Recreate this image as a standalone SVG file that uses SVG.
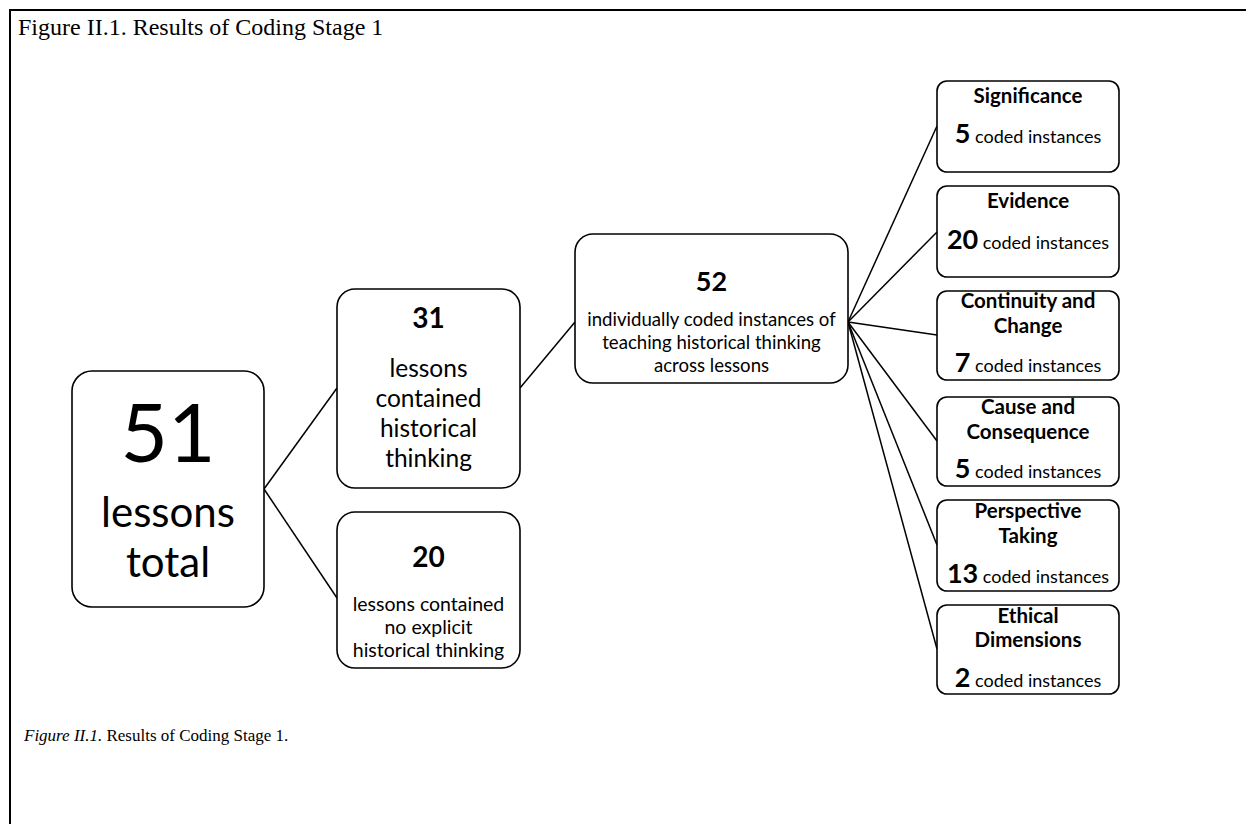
<svg xmlns="http://www.w3.org/2000/svg" width="1246" height="824" viewBox="0 0 1246 824">
<style>
.box{fill:#fff;stroke:#000;stroke-width:1.6}
.s{font-family:Lato,"Liberation Sans",sans-serif;fill:#000;text-anchor:middle}
.b{font-weight:bold}
.t{font-size:20.5px;font-weight:bold}
.c{font-size:18px}
.n{font-size:27px;font-weight:bold}
.serif{font-family:"Liberation Serif","Times New Roman",serif;fill:#000}
.ln{stroke:#000;stroke-width:1.5;fill:none}
</style>
<rect width="1246" height="824" fill="#fff"/>
<path d="M10 824 V10 H1246" fill="none" stroke="#000" stroke-width="2"/>
<text class="serif" x="18" y="35" font-size="24">Figure II.1. Results of Coding Stage 1</text>
<text class="serif" x="24" y="741" font-size="17"><tspan font-style="italic">Figure II.1.</tspan> Results of Coding Stage 1.</text>
<g id="connectors">
<line class="ln" x1="264" y1="489" x2="337" y2="388"/>
<line class="ln" x1="264" y1="489" x2="337" y2="598"/>
<line class="ln" x1="520" y1="388" x2="575" y2="322"/>
<line class="ln" x1="848" y1="322" x2="937" y2="126"/>
<line class="ln" x1="848" y1="322" x2="937" y2="232"/>
<line class="ln" x1="848" y1="322" x2="937" y2="335"/>
<line class="ln" x1="848" y1="322" x2="937" y2="441"/>
<line class="ln" x1="848" y1="322" x2="937" y2="545"/>
<line class="ln" x1="848" y1="322" x2="937" y2="649"/>
</g>
<g id="total">
<rect class="box" x="72" y="371" width="192" height="236" rx="20"/>
<text class="s" x="168" y="462" font-size="82">51</text>
<text class="s" x="168" y="527" font-size="42">lessons</text>
<text class="s" x="168" y="577" font-size="42">total</text>
</g>
<g id="contained">
<rect class="box" x="337" y="289" width="183" height="199" rx="18"/>
<text class="s b" x="428.5" y="328" font-size="28">31</text>
<text class="s" x="428.5" y="377" font-size="24.5">lessons</text>
<text class="s" x="428.5" y="407" font-size="24.5">contained</text>
<text class="s" x="428.5" y="437" font-size="24.5">historical</text>
<text class="s" x="428.5" y="467" font-size="24.5">thinking</text>
</g>
<g id="notcontained">
<rect class="box" x="337" y="512" width="183" height="156" rx="18"/>
<text class="s b" x="428.5" y="567" font-size="28">20</text>
<text class="s" x="428.5" y="611" font-size="19.5">lessons contained</text>
<text class="s" x="428.5" y="634" font-size="19.5">no explicit</text>
<text class="s" x="428.5" y="657" font-size="19.5">historical thinking</text>
</g>
<g id="instances">
<rect class="box" x="575" y="234" width="273" height="149" rx="18"/>
<text class="s b" x="711.5" y="291" font-size="27">52</text>
<text class="s" x="711.5" y="326" font-size="18.6">individually coded instances of</text>
<text class="s" x="711.5" y="349" font-size="18.6">teaching historical thinking</text>
<text class="s" x="711.5" y="372" font-size="18.6">across lessons</text>
</g>
<g id="significance">
<rect class="box" x="937" y="81" width="182" height="91" rx="10"/>
<text class="s t" x="1028" y="103">Significance</text>
<text class="s c" x="1028" y="143"><tspan class="n">5</tspan> coded instances</text>
</g>
<g id="evidence">
<rect class="box" x="937" y="186" width="182" height="91" rx="10"/>
<text class="s t" x="1028" y="208">Evidence</text>
<text class="s c" x="1028" y="249"><tspan class="n">20</tspan> coded instances</text>
</g>
<g id="continuity">
<rect class="box" x="937" y="291" width="182" height="89" rx="10"/>
<text class="s t" x="1028" y="308">Continuity and</text>
<text class="s t" x="1028" y="333">Change</text>
<text class="s c" x="1028" y="372"><tspan class="n">7</tspan> coded instances</text>
</g>
<g id="cause">
<rect class="box" x="937" y="397" width="182" height="89" rx="10"/>
<text class="s t" x="1028" y="414">Cause and</text>
<text class="s t" x="1028" y="439">Consequence</text>
<text class="s c" x="1028" y="478"><tspan class="n">5</tspan> coded instances</text>
</g>
<g id="perspective">
<rect class="box" x="937" y="500" width="182" height="91" rx="10"/>
<text class="s t" x="1028" y="518">Perspective</text>
<text class="s t" x="1028" y="543">Taking</text>
<text class="s c" x="1028" y="583"><tspan class="n">13</tspan> coded instances</text>
</g>
<g id="ethical">
<rect class="box" x="937" y="605" width="182" height="89" rx="10"/>
<text class="s t" x="1028" y="623">Ethical</text>
<text class="s t" x="1028" y="647">Dimensions</text>
<text class="s c" x="1028" y="687"><tspan class="n">2</tspan> coded instances</text>
</g>
</svg>
